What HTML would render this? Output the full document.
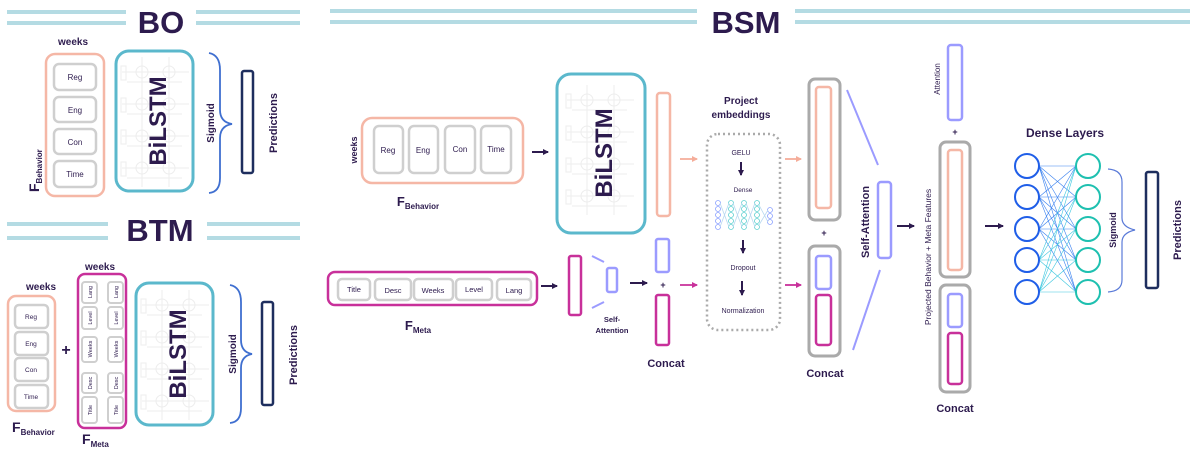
<!DOCTYPE html>
<html><head><meta charset="utf-8"><style>
html,body{margin:0;padding:0;background:#fff}
svg{display:block}
text{font-family:"Liberation Sans",sans-serif;fill:#2d1b4e}
.b{font-weight:bold}
</style></head><body>
<svg width="1196" height="461" viewBox="0 0 1196 461" xmlns="http://www.w3.org/2000/svg">
<defs>
<g id="grid" stroke="#ededed" stroke-width="1" fill="none">
<circle cx="25" cy="20" r="6"/><circle cx="52" cy="20" r="6"/>
<circle cx="25" cy="52" r="6"/><circle cx="52" cy="52" r="6"/>
<circle cx="25" cy="84" r="6"/><circle cx="52" cy="84" r="6"/>
<circle cx="25" cy="116" r="6"/><circle cx="52" cy="116" r="6"/>
<path d="M25 5V135M52 5V135M5 20H72M5 52H72M5 84H72M5 116H72M10 30H65M10 62H65M10 94H65M10 126H65"/>
<rect x="4" y="14" width="5" height="14"/><rect x="4" y="46" width="5" height="14"/><rect x="4" y="78" width="5" height="14"/><rect x="4" y="110" width="5" height="14"/>
</g>
<marker id="ad" markerWidth="6" markerHeight="6" refX="5" refY="3" orient="auto" markerUnits="userSpaceOnUse"><path d="M0,0L6,3L0,6z" fill="#2d1b4e"/></marker>
<marker id="as" markerWidth="6" markerHeight="6" refX="5" refY="3" orient="auto" markerUnits="userSpaceOnUse"><path d="M0,0L6,3L0,6z" fill="#f5ad9a"/></marker>
<marker id="am" markerWidth="6" markerHeight="6" refX="5" refY="3" orient="auto" markerUnits="userSpaceOnUse"><path d="M0,0L6,3L0,6z" fill="#c8309a"/></marker>
</defs>

<!-- header lines -->
<g stroke="#b4dbe3" stroke-width="4">
<path d="M7 12H126M7 23H126M196 12H300M196 23H300"/>
<path d="M7 224H108M7 238H108M207 224H300M207 238H300"/>
<path d="M330 11H697M330 22H697M795 11H1190M795 22H1190"/>
</g>
<text x="161" y="33" font-size="31" class="b" text-anchor="middle">BO</text>
<text x="160" y="241" font-size="31" class="b" text-anchor="middle">BTM</text>
<text x="746" y="33" font-size="31" class="b" text-anchor="middle">BSM</text>

<!-- ===== BO ===== -->
<text x="73" y="45" font-size="10" class="b" text-anchor="middle">weeks</text>
<rect x="46" y="54" width="58" height="142" rx="9" fill="none" stroke="#f5b7a6" stroke-width="2.5"/>
<g fill="#fff" stroke="#cfcfcf" stroke-width="2.5">
<rect x="54" y="64" width="42" height="26" rx="5"/><rect x="54" y="97" width="42" height="25" rx="5"/>
<rect x="54" y="129" width="42" height="25" rx="5"/><rect x="54" y="161" width="42" height="26" rx="5"/>
</g>
<g font-size="8" text-anchor="middle"><text x="75" y="80">Reg</text><text x="75" y="113">Eng</text><text x="75" y="145">Con</text><text x="75" y="177">Time</text></g>
<text transform="translate(39,192) rotate(-90)" font-size="14" class="b">F<tspan font-size="8" dy="3">Behavior</tspan></text>
<use href="#grid" x="117" y="52"/>
<rect x="116" y="51" width="77" height="140" rx="13" fill="none" stroke="#5bb8cc" stroke-width="3"/>
<text transform="translate(166,121) rotate(-90)" font-size="24" class="b" text-anchor="middle">BiLSTM</text>
<path d="M209 53Q220 55 220 70V110Q220 122 232 124Q220 126 220 138V178Q220 192 209 193" fill="none" stroke="#3f6fd0" stroke-width="1.8"/>
<text transform="translate(214,123) rotate(-90)" font-size="10" class="b" text-anchor="middle">Sigmoid</text>
<rect x="242" y="71" width="11" height="102" rx="2" fill="none" stroke="#1e2e5e" stroke-width="2.5"/>
<text transform="translate(277,123) rotate(-90)" font-size="11" class="b" text-anchor="middle">Predictions</text>

<!-- ===== BTM ===== -->
<text x="41" y="290" font-size="10" class="b" text-anchor="middle">weeks</text>
<text x="100" y="270" font-size="10" class="b" text-anchor="middle">weeks</text>
<rect x="8" y="296" width="47" height="115" rx="8" fill="none" stroke="#f5b7a6" stroke-width="2.5"/>
<g fill="#fff" stroke="#cfcfcf" stroke-width="2.5">
<rect x="15" y="305" width="33" height="23" rx="4"/><rect x="15" y="332" width="33" height="23" rx="4"/>
<rect x="15" y="358" width="33" height="23" rx="4"/><rect x="15" y="385" width="33" height="23" rx="4"/>
</g>
<g font-size="6.5" text-anchor="middle"><text x="31" y="319">Reg</text><text x="31" y="346">Eng</text><text x="31" y="372">Con</text><text x="31" y="399">Time</text></g>
<text x="66" y="355" font-size="16" class="b" text-anchor="middle">+</text>
<rect x="78" y="274" width="48" height="154" rx="7" fill="none" stroke="#c8309a" stroke-width="2.5"/>
<g fill="#fff" stroke="#cfcfcf" stroke-width="2">
<rect x="82" y="282" width="15" height="21" rx="3"/><rect x="108" y="282" width="15" height="21" rx="3"/>
<rect x="82" y="307" width="15" height="22" rx="3"/><rect x="108" y="307" width="15" height="22" rx="3"/>
<rect x="82" y="337" width="15" height="25" rx="3"/><rect x="108" y="337" width="15" height="25" rx="3"/>
<rect x="82" y="373" width="15" height="20" rx="3"/><rect x="108" y="373" width="15" height="20" rx="3"/>
<rect x="82" y="397" width="15" height="26" rx="3"/><rect x="108" y="397" width="15" height="26" rx="3"/>
</g>
<g font-size="5.5" text-anchor="middle">
<text transform="translate(92,292) rotate(-90)">Lang</text><text transform="translate(118,292) rotate(-90)">Lang</text>
<text transform="translate(92,318) rotate(-90)">Level</text><text transform="translate(118,318) rotate(-90)">Level</text>
<text transform="translate(92,349) rotate(-90)">Weeks</text><text transform="translate(118,349) rotate(-90)">Weeks</text>
<text transform="translate(92,383) rotate(-90)">Desc</text><text transform="translate(118,383) rotate(-90)">Desc</text>
<text transform="translate(92,410) rotate(-90)">Title</text><text transform="translate(118,410) rotate(-90)">Title</text>
</g>
<text x="12" y="432" font-size="14" class="b">F<tspan font-size="8" dy="3">Behavior</tspan></text>
<text x="82" y="444" font-size="14" class="b">F<tspan font-size="8" dy="3">Meta</tspan></text>
<use href="#grid" x="137" y="285"/>
<rect x="136" y="283" width="77" height="142" rx="13" fill="none" stroke="#5bb8cc" stroke-width="3"/>
<text transform="translate(186,354) rotate(-90)" font-size="24" class="b" text-anchor="middle">BiLSTM</text>
<path d="M230 285Q241 287 241 302V340Q241 352 252 354Q241 356 241 368V408Q241 422 230 423" fill="none" stroke="#3f6fd0" stroke-width="1.8"/>
<text transform="translate(236,354) rotate(-90)" font-size="10" class="b" text-anchor="middle">Sigmoid</text>
<rect x="262" y="302" width="11" height="103" rx="2" fill="none" stroke="#1e2e5e" stroke-width="2.5"/>
<text transform="translate(297,355) rotate(-90)" font-size="11" class="b" text-anchor="middle">Predictions</text>

<!-- ===== BSM ===== -->
<text transform="translate(357,150) rotate(-90)" font-size="9" class="b" text-anchor="middle">weeks</text>
<rect x="362" y="118" width="161" height="65" rx="10" fill="none" stroke="#f5b7a6" stroke-width="2.5"/>
<g fill="#fff" stroke="#cfcfcf" stroke-width="2.5">
<rect x="374" y="126" width="29" height="47" rx="5"/><rect x="409" y="126" width="29" height="47" rx="5"/>
<rect x="445" y="126" width="30" height="47" rx="5"/><rect x="481" y="126" width="30" height="47" rx="5"/>
</g>
<g font-size="8" text-anchor="middle"><text x="388" y="153">Reg</text><text x="423" y="153">Eng</text><text x="460" y="152">Con</text><text x="496" y="152">Time</text></g>
<text x="418" y="206" font-size="13" class="b" text-anchor="middle">F<tspan font-size="8" dy="3">Behavior</tspan></text>
<path d="M532 152H548" stroke="#2d1b4e" stroke-width="2" marker-end="url(#ad)"/>
<use href="#grid" x="562" y="80"/>
<rect x="557" y="74" width="88" height="159" rx="14" fill="none" stroke="#5bb8cc" stroke-width="3"/>
<text transform="translate(612,153) rotate(-90)" font-size="24" class="b" text-anchor="middle">BiLSTM</text>
<rect x="657" y="93" width="13" height="123" rx="3" fill="none" stroke="#f5b7a6" stroke-width="2.5"/>
<path d="M680 159H697" stroke="#f5ad9a" stroke-width="1.8" marker-end="url(#as)"/>

<rect x="328" y="272" width="209" height="33" rx="7" fill="none" stroke="#c8309a" stroke-width="2.5"/>
<g fill="#fff" stroke="#cfcfcf" stroke-width="2.5">
<rect x="338" y="279" width="32" height="21" rx="4"/><rect x="375" y="279" width="36" height="21" rx="4"/>
<rect x="414" y="279" width="39" height="21" rx="4"/><rect x="456" y="279" width="36" height="21" rx="4"/><rect x="497" y="279" width="34" height="21" rx="4"/>
</g>
<g font-size="7.5" text-anchor="middle"><text x="354" y="292">Title</text><text x="393" y="293">Desc</text><text x="433" y="293">Weeks</text><text x="474" y="292">Level</text><text x="514" y="293">Lang</text></g>
<text x="418" y="330" font-size="13" class="b" text-anchor="middle">F<tspan font-size="8" dy="3">Meta</tspan></text>
<path d="M541 286H557" stroke="#2d1b4e" stroke-width="2" marker-end="url(#ad)"/>
<rect x="569" y="256" width="12" height="59" rx="2" fill="none" stroke="#c8309a" stroke-width="2.5"/>
<path d="M592 256L604 262M592 308L604 302" stroke="#9b9bff" stroke-width="2"/>
<rect x="607" y="268" width="10" height="24" rx="2" fill="none" stroke="#9b9bff" stroke-width="2.5"/>
<text x="612" y="322" font-size="7.5" class="b" text-anchor="middle">Self-</text>
<text x="612" y="333" font-size="7.5" class="b" text-anchor="middle">Attention</text>
<path d="M630 283H647" stroke="#2d1b4e" stroke-width="2" marker-end="url(#ad)"/>
<rect x="656" y="239" width="13" height="33" rx="2" fill="none" stroke="#9b9bff" stroke-width="2.5"/>
<text x="663" y="288" font-size="9" class="b" text-anchor="middle">+</text>
<rect x="656" y="295" width="13" height="50" rx="2" fill="none" stroke="#c8309a" stroke-width="2.5"/>
<text x="666" y="367" font-size="11" class="b" text-anchor="middle">Concat</text>
<path d="M680 285H697" stroke="#c8309a" stroke-width="1.8" marker-end="url(#am)"/>

<!-- project embeddings -->
<text x="741" y="104" font-size="10" class="b" text-anchor="middle">Project</text>
<text x="741" y="118" font-size="10" class="b" text-anchor="middle">embeddings</text>
<rect x="707" y="134" width="73" height="196" rx="11" fill="none" stroke="#aaa" stroke-width="2.5" stroke-dasharray="2 3"/>
<text x="741" y="155" font-size="7" text-anchor="middle">GELU</text>
<path d="M741 162V175" stroke="#2d1b4e" stroke-width="2" marker-end="url(#ad)"/>
<text x="743" y="192" font-size="6.5" text-anchor="middle">Dense</text>
<g fill="none" stroke-width="0.8">
<g stroke="#8aa0ff"><circle cx="718" cy="203" r="2.5"/><circle cx="718" cy="209" r="2.5"/><circle cx="718" cy="215" r="2.5"/><circle cx="718" cy="221" r="2.5"/><circle cx="718" cy="227" r="2.5"/></g>
<g stroke="#5fd0d0"><circle cx="731" cy="203" r="2.5"/><circle cx="731" cy="209" r="2.5"/><circle cx="731" cy="215" r="2.5"/><circle cx="731" cy="221" r="2.5"/><circle cx="731" cy="227" r="2.5"/>
<circle cx="744" cy="203" r="2.5"/><circle cx="744" cy="209" r="2.5"/><circle cx="744" cy="215" r="2.5"/><circle cx="744" cy="221" r="2.5"/><circle cx="744" cy="227" r="2.5"/>
<circle cx="757" cy="203" r="2.5"/><circle cx="757" cy="209" r="2.5"/><circle cx="757" cy="215" r="2.5"/><circle cx="757" cy="221" r="2.5"/><circle cx="757" cy="227" r="2.5"/></g>
<g stroke="#8aa0ff"><circle cx="770" cy="210" r="2.5"/><circle cx="770" cy="216" r="2.5"/><circle cx="770" cy="222" r="2.5"/></g>
<path d="M720 203L729 227M720 227L729 203M733 203L742 227M733 227L742 203M746 203L755 227M746 227L755 203M759 205L768 222M759 225L768 210" stroke="#b8d8f0"/>
</g>
<path d="M743 240V253" stroke="#2d1b4e" stroke-width="2" marker-end="url(#ad)"/>
<text x="743" y="270" font-size="7" text-anchor="middle">Dropout</text>
<path d="M742 281V295" stroke="#2d1b4e" stroke-width="2" marker-end="url(#ad)"/>
<text x="743" y="313" font-size="7" text-anchor="middle">Normalization</text>
<path d="M785 159H801" stroke="#f5ad9a" stroke-width="1.8" marker-end="url(#as)"/>
<path d="M785 285H801" stroke="#c8309a" stroke-width="1.8" marker-end="url(#am)"/>

<rect x="809" y="79" width="31" height="141" rx="6" fill="none" stroke="#aaa" stroke-width="3"/>
<rect x="816" y="87" width="15" height="121" rx="3" fill="none" stroke="#f5b7a6" stroke-width="2.5"/>
<text x="824" y="236" font-size="9" class="b" text-anchor="middle">+</text>
<rect x="809" y="246" width="31" height="110" rx="6" fill="none" stroke="#aaa" stroke-width="3"/>
<rect x="816" y="256" width="15" height="33" rx="3" fill="none" stroke="#9b9bff" stroke-width="2.5"/>
<rect x="816" y="295" width="15" height="50" rx="3" fill="none" stroke="#c8309a" stroke-width="2.5"/>
<text x="825" y="377" font-size="11" class="b" text-anchor="middle">Concat</text>
<path d="M847 90L878 165M853 350L880 270" stroke="#9b9bff" stroke-width="2"/>
<text transform="translate(869,222) rotate(-90)" font-size="11" class="b" text-anchor="middle">Self-Attention</text>
<rect x="878" y="182" width="13" height="76" rx="3" fill="none" stroke="#9b9bff" stroke-width="2.5"/>
<path d="M897 226H914" stroke="#2d1b4e" stroke-width="2" marker-end="url(#ad)"/>

<rect x="948" y="45" width="14" height="75" rx="3" fill="none" stroke="#9b9bff" stroke-width="2.5"/>
<text transform="translate(940,79) rotate(-90)" font-size="8" text-anchor="middle">Attention</text>
<text x="955" y="135" font-size="9" class="b" text-anchor="middle">+</text>
<rect x="940" y="142" width="30" height="135" rx="6" fill="none" stroke="#aaa" stroke-width="3"/>
<rect x="948" y="150" width="14" height="120" rx="3" fill="none" stroke="#f5b7a6" stroke-width="2.5"/>
<rect x="940" y="285" width="30" height="107" rx="6" fill="none" stroke="#aaa" stroke-width="3"/>
<rect x="948" y="294" width="14" height="33" rx="3" fill="none" stroke="#9b9bff" stroke-width="2.5"/>
<rect x="948" y="333" width="14" height="51" rx="3" fill="none" stroke="#c8309a" stroke-width="2.5"/>
<text x="955" y="412" font-size="11" class="b" text-anchor="middle">Concat</text>
<text transform="translate(931,257) rotate(-90)" font-size="8.5" text-anchor="middle">Projected Behavior + Meta Features</text>
<path d="M985 226H1003" stroke="#2d1b4e" stroke-width="2" marker-end="url(#ad)"/>

<text x="1065" y="137" font-size="12" class="b" text-anchor="middle">Dense Layers</text>
<g stroke-width="0.6" fill="none">
<g stroke="#3b82f0">
<path d="M1039 166L1076 166M1039 166L1076 197M1039 166L1076 229M1039 166L1076 260M1039 166L1076 292"/>
<path d="M1039 197L1076 166M1039 197L1076 197M1039 197L1076 229M1039 197L1076 260M1039 197L1076 292"/>
<path d="M1039 229L1076 166M1039 229L1076 197M1039 229L1076 229M1039 229L1076 260M1039 229L1076 292"/>
</g>
<g stroke="#40c8e0">
<path d="M1039 260L1076 166M1039 260L1076 197M1039 260L1076 229M1039 260L1076 260M1039 260L1076 292"/>
<path d="M1039 292L1076 166M1039 292L1076 197M1039 292L1076 229M1039 292L1076 260M1039 292L1076 292"/>
</g>
</g>
<g fill="#fff" stroke="#1f5ee8" stroke-width="2">
<circle cx="1027" cy="166" r="12"/><circle cx="1027" cy="197" r="12"/><circle cx="1027" cy="229" r="12"/><circle cx="1027" cy="260" r="12"/><circle cx="1027" cy="292" r="12"/>
</g>
<g fill="#fff" stroke="#1ec0b0" stroke-width="2">
<circle cx="1088" cy="166" r="12"/><circle cx="1088" cy="197" r="12"/><circle cx="1088" cy="229" r="12"/><circle cx="1088" cy="260" r="12"/><circle cx="1088" cy="292" r="12"/>
</g>
<path d="M1108 169Q1122 170 1122 182V218Q1122 227 1135 230Q1122 233 1122 242V280Q1122 291 1108 292" fill="none" stroke="#5a7ad8" stroke-width="1.2"/>
<text transform="translate(1116,230) rotate(-90)" font-size="9" class="b" text-anchor="middle">Sigmoid</text>
<rect x="1146" y="172" width="12" height="116" rx="2" fill="none" stroke="#1e2e5e" stroke-width="2.5"/>
<text transform="translate(1181,230) rotate(-90)" font-size="11" class="b" text-anchor="middle">Predictions</text>
</svg>
</body></html>
